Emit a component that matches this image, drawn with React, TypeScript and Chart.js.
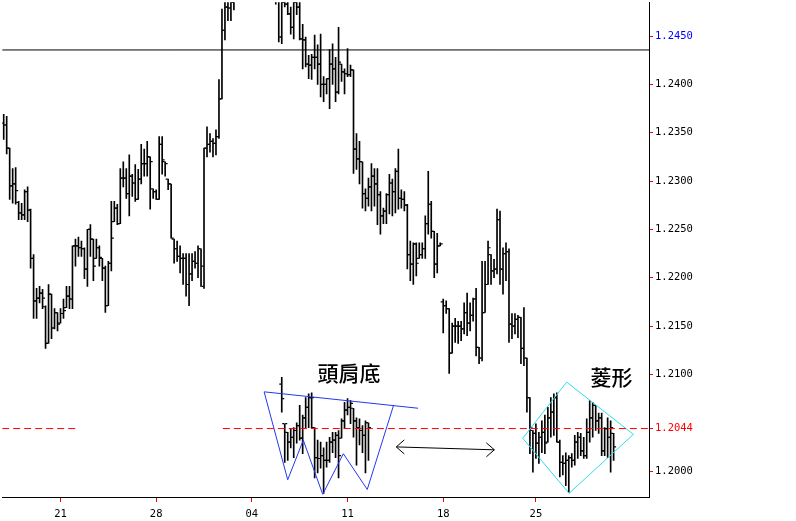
import React, { useEffect, useRef } from "react";
import { Chart, registerables } from "chart.js";

Chart.register(...registerables);

// ---- OHLC data (bar index = position on the time axis; null = bar above visible range) ----
const opens: (number | null)[] = [
  1.2360, 1.2358, 1.2334, 1.2295, 1.2297, 1.2278, 1.2267, 1.2265, 1.2289, 1.2270,
  1.2220, 1.2176, 1.2179, 1.2184, 1.2170, 1.2132, 1.2183, 1.2148, 1.2164, 1.2153,
  1.2163, 1.2169, 1.2181, 1.2178, 1.2233, 1.2233, 1.2231, 1.2230, 1.2209, 1.2250,
  1.2240, 1.2220, 1.2231, 1.2220, 1.2210, 1.2171, 1.2215, 1.2258, 1.2272, 1.2256,
  1.2303, 1.2303, 1.2287, 1.2305, 1.2298, 1.2281, 1.2302, 1.2318, 1.2318, 1.2325,
  1.2292, 1.2289, 1.2281, 1.2338, 1.2320, 1.2302, 1.2297, 1.2240, 1.2230, 1.2222,
  1.2220, 1.2220, 1.2193, 1.2204, 1.2217, 1.2215, 1.2230, 1.2191, 1.2334, 1.2338,
  1.2341, 1.2339, 1.2346, 1.2385, 1.2456, 1.2480, 1.2479, 1.2485,
  null, null, null, null, null, null, null, null, null, null, null, null, null,
  1.2500, 1.2490, 1.2449, 1.2485, 1.2483, 1.2473, 1.2459, 1.2485, 1.2480,
  1.2447, 1.2446, 1.2421, 1.2420, 1.2428, 1.2428, 1.2421, 1.2400, 1.2400, 1.2406,
  1.2421, 1.2416, 1.2392, 1.2421, 1.2413, 1.2411, 1.2410, 1.2415, 1.2333, 1.2323,
  1.2320, 1.2287, 1.2282, 1.2294, 1.2305, 1.2297, 1.2286, 1.2264, 1.2269, 1.2286,
  1.2298, 1.2289, 1.2310, 1.2282, 1.2281, 1.2275, 1.2224, 1.2214, 1.2235, 1.2220,
  1.2224, 1.2230, 1.2256, 1.2276, 1.2248, 1.2214, 1.2233, 1.2175, 1.2171, 1.2168,
  1.2122, 1.2150, 1.2150, 1.2150, 1.2147, 1.2164, 1.2153, 1.2161, 1.2178, 1.2128,
  1.2117, 1.2164, 1.2193, 1.2224, 1.2207, 1.2209, 1.2260, 1.2209, 1.2225, 1.2227,
  1.2152, 1.2150, 1.2157, 1.2159, 1.2127, 1.2117, 1.2076, 1.2042, 1.2039, 1.2029,
  1.2035, 1.2040, 1.2030, 1.2055, 1.2061, 1.2076, 1.2030, 1.2009, 1.2008, 1.2011,
  1.2014, 1.2011, 1.2030, 1.2035, 1.2021, 1.2016, 1.2040, 1.2055, 1.2068, 1.2052,
  1.2055, 1.2021, 1.2044, 1.2035, 1.2039,
];

const highs: (number | null)[] = [
  1.2369, 1.2367, 1.2334, 1.2313, 1.2314, 1.2279, 1.2277, 1.2291, 1.2294, 1.2271,
  1.2224, 1.2189, 1.2191, 1.2188, 1.2171, 1.2193, 1.2183, 1.2168, 1.2164, 1.2168,
  1.2178, 1.2191, 1.2191, 1.2233, 1.2240, 1.2242, 1.2238, 1.2231, 1.2250, 1.2255,
  1.2240, 1.2240, 1.2233, 1.2220, 1.2212, 1.2217, 1.2279, 1.2279, 1.2276, 1.2313,
  1.2320, 1.2313, 1.2327, 1.2307, 1.2317, 1.2312, 1.2338, 1.2333, 1.2341, 1.2325,
  1.2292, 1.2291, 1.2346, 1.2346, 1.2320, 1.2302, 1.2297, 1.2240, 1.2238, 1.2233,
  1.2225, 1.2225, 1.2225, 1.2225, 1.2227, 1.2233, 1.2230, 1.2334, 1.2356, 1.2349,
  1.2344, 1.2353, 1.2405, 1.2478, 1.2490, 1.2495, 1.2500, 1.2506,
  null, null, null, null, null, null, null, null, null, null, null, null, null,
  1.2506, 1.2495, 1.2495, 1.2490, 1.2488, 1.2480, 1.2490, 1.2493, 1.2488,
  1.2462, 1.2449, 1.2430, 1.2431, 1.2451, 1.2441, 1.2452, 1.2408, 1.2406, 1.2436,
  1.2442, 1.2428, 1.2459, 1.2421, 1.2416, 1.2437, 1.2420, 1.2415, 1.2349, 1.2341,
  1.2320, 1.2292, 1.2303, 1.2318, 1.2313, 1.2313, 1.2289, 1.2272, 1.2287, 1.2307,
  1.2302, 1.2313, 1.2333, 1.2291, 1.2289, 1.2276, 1.2238, 1.2236, 1.2236, 1.2236,
  1.2236, 1.2264, 1.2310, 1.2279, 1.2248, 1.2246, 1.2236, 1.2178, 1.2176, 1.2168,
  1.2153, 1.2158, 1.2155, 1.2155, 1.2174, 1.2184, 1.2174, 1.2179, 1.2189, 1.2128,
  1.2217, 1.2217, 1.2238, 1.2224, 1.2219, 1.2271, 1.2269, 1.2231, 1.2236, 1.2230,
  1.2163, 1.2163, 1.2161, 1.2159, 1.2169, 1.2117, 1.2076, 1.2042, 1.2049, 1.2040,
  1.2052, 1.2058, 1.2066, 1.2076, 1.2080, 1.2081, 1.2032, 1.2016, 1.2019, 1.2016,
  1.2018, 1.2037, 1.2040, 1.2039, 1.2035, 1.2054, 1.2073, 1.2071, 1.2068, 1.2060,
  1.2060, 1.2045, 1.2055, 1.2052, 1.2039,
];

const lows: (number | null)[] = [
  1.2343, 1.2328, 1.2281, 1.2277, 1.2276, 1.2260, 1.2260, 1.2260, 1.2258, 1.2210,
  1.2158, 1.2158, 1.2174, 1.2168, 1.2127, 1.2132, 1.2137, 1.2147, 1.2145, 1.2153,
  1.2158, 1.2169, 1.2168, 1.2168, 1.2212, 1.2222, 1.2222, 1.2199, 1.2191, 1.2222,
  1.2197, 1.2220, 1.2212, 1.2197, 1.2164, 1.2171, 1.2207, 1.2258, 1.2255, 1.2256,
  1.2294, 1.2282, 1.2264, 1.2284, 1.2279, 1.2281, 1.2297, 1.2305, 1.2305, 1.2271,
  1.2282, 1.2281, 1.2281, 1.2307, 1.2305, 1.2291, 1.2241, 1.2215, 1.2217, 1.2205,
  1.2193, 1.2181, 1.2171, 1.2197, 1.2210, 1.2200, 1.2191, 1.2189, 1.2325, 1.2330,
  1.2325, 1.2327, 1.2344, 1.2385, 1.2446, 1.2466, 1.2466, 1.2477,
  null, null, null, null, null, null, null, null, null, null, null, null, null,
  1.2483, 1.2444, 1.2442, 1.2480, 1.2472, 1.2452, 1.2447, 1.2472, 1.2446,
  1.2416, 1.2418, 1.2406, 1.2405, 1.2416, 1.2400, 1.2387, 1.2382, 1.2390, 1.2375,
  1.2400, 1.2382, 1.2390, 1.2403, 1.2390, 1.2408, 1.2408, 1.2308, 1.2312, 1.2297,
  1.2272, 1.2269, 1.2274, 1.2269, 1.2274, 1.2255, 1.2245, 1.2256, 1.2256, 1.2266,
  1.2264, 1.2267, 1.2271, 1.2272, 1.2269, 1.2209, 1.2197, 1.2193, 1.2202, 1.2220,
  1.2220, 1.2220, 1.2245, 1.2241, 1.2200, 1.2205, 1.2233, 1.2143, 1.2163, 1.2101,
  1.2122, 1.2133, 1.2132, 1.2135, 1.2142, 1.2140, 1.2145, 1.2155, 1.2119, 1.2111,
  1.2114, 1.2164, 1.2193, 1.2193, 1.2200, 1.2204, 1.2193, 1.2183, 1.2197, 1.2133,
  1.2137, 1.2142, 1.2138, 1.2111, 1.2109, 1.2061, 1.2018, 1.1999, 1.2013, 1.2008,
  1.2019, 1.2018, 1.2030, 1.2035, 1.2037, 1.2030, 1.1994, 1.1996, 1.1985, 1.1978,
  1.2004, 1.2006, 1.2013, 1.2016, 1.2013, 1.2013, 1.2030, 1.2035, 1.2042, 1.2039,
  1.2016, 1.2016, 1.2014, 1.1999, 1.2011,
];

const closes: (number | null)[] = [
  1.2358, 1.2334, 1.2295, 1.2297, 1.2290, 1.2267, 1.2265, 1.2289, 1.2270, 1.2220,
  1.2176, 1.2179, 1.2184, 1.2179, 1.2132, 1.2183, 1.2148, 1.2164, 1.2152, 1.2163,
  1.2166, 1.2181, 1.2178, 1.2233, 1.2233, 1.2231, 1.2230, 1.2209, 1.2250, 1.2240,
  1.2212, 1.2231, 1.2221, 1.2210, 1.2171, 1.2215, 1.2241, 1.2272, 1.2256, 1.2303,
  1.2303, 1.2287, 1.2305, 1.2298, 1.2281, 1.2302, 1.2318, 1.2318, 1.2325, 1.2320,
  1.2289, 1.2281, 1.2338, 1.2322, 1.2318, 1.2297, 1.2241, 1.2230, 1.2222, 1.2220,
  1.2220, 1.2193, 1.2204, 1.2217, 1.2215, 1.2230, 1.2212, 1.2334, 1.2338, 1.2341,
  1.2339, 1.2346, 1.2385, 1.2456, 1.2480, 1.2479, 1.2485, 1.2495,
  null, null, null, null, null, null, null, null, null, null, null, null, null,
  1.2490, 1.2449, 1.2485, 1.2483, 1.2473, 1.2459, 1.2485, 1.2480, 1.2447,
  1.2446, 1.2421, 1.2420, 1.2428, 1.2428, 1.2421, 1.2400, 1.2400, 1.2406, 1.2421,
  1.2416, 1.2392, 1.2423, 1.2413, 1.2411, 1.2410, 1.2415, 1.2333, 1.2323, 1.2320,
  1.2287, 1.2282, 1.2294, 1.2305, 1.2297, 1.2286, 1.2264, 1.2269, 1.2286, 1.2298,
  1.2289, 1.2310, 1.2282, 1.2281, 1.2275, 1.2224, 1.2214, 1.2235, 1.2215, 1.2224,
  1.2230, 1.2256, 1.2276, 1.2248, 1.2214, 1.2233, 1.2235, 1.2171, 1.2168, 1.2122,
  1.2150, 1.2150, 1.2150, 1.2147, 1.2164, 1.2153, 1.2161, 1.2178, 1.2128, 1.2117,
  1.2164, 1.2193, 1.2231, 1.2207, 1.2209, 1.2260, 1.2209, 1.2225, 1.2227, 1.2152,
  1.2150, 1.2157, 1.2159, 1.2127, 1.2117, 1.2076, 1.2045, 1.2039, 1.2029, 1.2035,
  1.2040, 1.2029, 1.2055, 1.2061, 1.2076, 1.2030, 1.2009, 1.2008, 1.2011, 1.2014,
  1.2011, 1.2030, 1.2035, 1.2021, 1.2016, 1.2040, 1.2055, 1.2068, 1.2052, 1.2055,
  1.2021, 1.2044, 1.2035, 1.2045, 1.2025,
];

// ---- Head-and-shoulders illustration bars (overlay), starting at bar index HS_START ----
const HS_START = 93;
const hsOpens = [
  1.2090, 1.2049, 1.2040, 1.2030, 1.2035, 1.2042, 1.2047, 1.2034, 1.2055, 1.2066,
  1.2076, 1.2045, 1.2014, 1.2013, 1.2016, 1.2011, 1.2011, 1.2030, 1.2032, 1.2037,
  1.2034, 1.2052, 1.2063, 1.2066, 1.2065, 1.2052, 1.2045, 1.2042, 1.2037, 1.2050,
];
const hsHighs = [
  1.2097, 1.2049, 1.2040, 1.2044, 1.2045, 1.2050, 1.2068, 1.2058, 1.2076, 1.2080,
  1.2081, 1.2045, 1.2032, 1.2030, 1.2024, 1.2030, 1.2035, 1.2040, 1.2040, 1.2042,
  1.2054, 1.2071, 1.2075, 1.2073, 1.2065, 1.2055, 1.2054, 1.2047, 1.2052, 1.2050,
];
const hsLows = [
  1.2061, 1.2009, 1.2011, 1.2024, 1.2014, 1.2029, 1.2032, 1.2018, 1.2045, 1.2045,
  1.2045, 1.1993, 1.1998, 1.2003, 1.1977, 1.2004, 1.2009, 1.2019, 1.2014, 1.1993,
  1.2034, 1.2044, 1.2058, 1.2049, 1.2035, 1.2006, 1.2027, 1.2019, 1.1998, 1.2011,
];
const hsCloses = [
  1.2075, 1.2049, 1.2030, 1.2035, 1.2042, 1.2047, 1.2034, 1.2055, 1.2066, 1.2076,
  1.2076, 1.2014, 1.2013, 1.2016, 1.2011, 1.2011, 1.2030, 1.2032, 1.2037, 1.2016,
  1.2052, 1.2063, 1.2066, 1.2070, 1.2052, 1.2045, 1.2042, 1.2037, 1.2050, 1.2045,
];

// ---- Axes ----
const X_MIN = -0.5;
const X_MAX = 215.83;
const Y_MIN = 1.19732;
const Y_MAX = 1.2485;
const xTickValues = [19, 51, 83, 115, 147, 178];
const xTickLabels = ["21", "28", "04", "11", "18", "25"];
const yTickValues = [1.2, 1.2044, 1.21, 1.215, 1.22, 1.225, 1.23, 1.235, 1.24, 1.245];
const blueTickValue = 1.245;
const redTickValue = 1.2044;

// ---- Annotations ----
const resistanceLevel = 1.24356;
const supportLevel = 1.2044;
const supportSegments = [
  [X_MIN, 24.7],
  [73.3, X_MAX],
];
const necklineX = [87.1, 138.6];
const necklineY = [1.2082, 1.2065];
const hsZigX = [87.1, 95, 100.2, 106.7, 113.6, 121.6, 130.4];
const hsZigY = [1.2082, 1.1991, 1.2032, 1.1976, 1.2018, 1.1981, 1.2068];
const diamondX = [188.3, 210.6, 189.1, 173.6, 188.3];
const diamondY = [1.2092, 1.2038, 1.1977, 1.2034, 1.2092];
const arrowX = [131.3, 164.1];
const arrowY = [1.2025, 1.2022];
const textLabels = [
  { text: "頭肩底", x: 115.5, y: 1.2101 },
  { text: "菱形", x: 203.3, y: 1.2097 },
];

const TICK_OFFSET = 0.5;

function ohlcDatasets(
  o: (number | null)[],
  h: (number | null)[],
  l: (number | null)[],
  c: (number | null)[],
  start: number
) {
  const bars: any[] = [];
  const op: any[] = [];
  const cl: any[] = [];
  h.forEach((hv, k) => {
    if (hv === null) return;
    const x = start + k;
    bars.push({ x, y: [l[k], hv] });
    op.push({ x: x - TICK_OFFSET, y: o[k] });
    cl.push({ x: x + TICK_OFFSET, y: c[k] });
  });
  const tickStyle = {
    type: "scatter" as const,
    pointStyle: "line",
    pointRadius: 1,
    pointHoverRadius: 1,
    borderColor: "#000",
    pointBorderColor: "#000",
    backgroundColor: "#000",
    borderWidth: 1.2,
    pointBorderWidth: 1.2,
    order: 2,
  };
  return [
    {
      type: "bar" as const,
      data: bars,
      backgroundColor: "#000",
      borderWidth: 0,
      barThickness: 1,
      grouped: false,
      order: 3,
    },
    { ...tickStyle, data: op },
    { ...tickStyle, data: cl },
  ];
}

function lineDs(xs: number[], ys: number[], color: string, dash: number[] = []) {
  return {
    type: "line" as const,
    data: xs.map((x, i) => ({ x, y: ys[i] })),
    borderColor: color,
    borderWidth: 1,
    borderDash: dash,
    pointRadius: 0,
    pointHoverRadius: 0,
    fill: false,
    tension: 0,
    order: 0,
  };
}

const annotationPlugin = {
  id: "annotationsExtra",
  afterDatasetsDraw(chart: any) {
    const { ctx, scales } = chart;
    const xs = scales.x;
    const ys = scales.y;
    ctx.save();
    // double-headed arrow
    const x1 = xs.getPixelForValue(arrowX[0]);
    const y1 = ys.getPixelForValue(arrowY[0]);
    const x2 = xs.getPixelForValue(arrowX[1]);
    const y2 = ys.getPixelForValue(arrowY[1]);
    ctx.strokeStyle = "#000";
    ctx.lineWidth = 1;
    ctx.beginPath();
    ctx.moveTo(x1, y1);
    ctx.lineTo(x2, y2);
    const head = 8;
    const half = 7;
    ctx.moveTo(x1 + head, y1 - half);
    ctx.lineTo(x1, y1);
    ctx.lineTo(x1 + head, y1 + half);
    ctx.moveTo(x2 - head, y2 - half);
    ctx.lineTo(x2, y2);
    ctx.lineTo(x2 - head, y2 + half);
    ctx.stroke();
    // labels
    ctx.fillStyle = "#000";
    ctx.font = '500 21px "Noto Sans CJK TC", "Noto Sans CJK SC", sans-serif';
    ctx.textAlign = "center";
    ctx.textBaseline = "middle";
    textLabels.forEach((t) => {
      ctx.fillText(t.text, xs.getPixelForValue(t.x), ys.getPixelForValue(t.y));
    });
    ctx.restore();
  },
};

export default function App() {
  const ref = useRef<HTMLCanvasElement>(null);
  useEffect(() => {
    if (!ref.current) return;
    const datasets: any[] = [
      lineDs([X_MIN, X_MAX], [resistanceLevel, resistanceLevel], "#000"),
      ...supportSegments.map((seg) =>
        lineDs(seg, [supportLevel, supportLevel], "#ff0000", [7, 4])
      ),
      lineDs(necklineX, necklineY, "#2437ee"),
      lineDs(hsZigX, hsZigY, "#2437ee"),
      lineDs(diamondX, diamondY, "#2fdcef"),
      ...ohlcDatasets(opens, highs, lows, closes, 0),
      ...ohlcDatasets(hsOpens, hsHighs, hsLows, hsCloses, HS_START),
    ];
    const tickFont = { family: '"DejaVu Sans Mono", monospace', size: 10.5 };
    const chart = new Chart(ref.current, {
      type: "bar",
      data: { datasets },
      plugins: [annotationPlugin],
      options: {
        animation: false,
        responsive: true,
        maintainAspectRatio: false,
        devicePixelRatio: 1,
        events: [],
        layout: { padding: 0 },
        plugins: { legend: { display: false }, tooltip: { enabled: false } },
        scales: {
          x: {
            type: "linear",
            position: "bottom",
            min: X_MIN,
            max: X_MAX,
            offset: false,
            afterBuildTicks: (s: any) => {
              s.ticks = xTickValues.map((v) => ({ value: v }));
            },
            afterFit: (s: any) => {
              s.height = 24;
              s.paddingLeft = 0;
              s.paddingRight = 0;
            },
            ticks: {
              autoSkip: false,
              maxRotation: 0,
              padding: 6,
              color: "#000",
              font: tickFont,
              callback: (_v: any, i: number) => xTickLabels[i],
            },
            grid: {
              offset: false,
              drawOnChartArea: false,
              drawTicks: true,
              tickLength: 5,
              tickColor: "#ff0000",
              color: "#ff0000",
            },
            border: { display: true, color: "#000", width: 1 },
          },
          y: {
            type: "linear",
            position: "right",
            min: Y_MIN,
            max: Y_MAX,
            afterBuildTicks: (s: any) => {
              s.ticks = yTickValues.map((v) => ({ value: v }));
            },
            afterFit: (s: any) => {
              s.width = 147;
              s.paddingTop = 0;
              s.paddingBottom = 0;
            },
            ticks: {
              autoSkip: false,
              padding: 2,
              font: tickFont,
              color: (c: any) => {
                const v = c.tick ? c.tick.value : 0;
                if (Math.abs(v - blueTickValue) < 1e-7) return "#0000ff";
                if (Math.abs(v - redTickValue) < 1e-7) return "#ff0000";
                return "#000";
              },
              callback: (v: any) => Number(v).toFixed(4),
            },
            grid: {
              drawOnChartArea: false,
              drawTicks: true,
              tickLength: 4,
              tickColor: "#ff0000",
              color: "#ff0000",
            },
            border: { display: true, color: "#000", width: 1 },
          },
        },
      } as any,
    });
    return () => chart.destroy();
  }, []);
  return (
    <div
      style={{
        position: "absolute",
        left: 0,
        top: 0,
        width: 796,
        height: 521,
        background: "#fff",
      }}
    >
      <canvas ref={ref} />
    </div>
  );
}
